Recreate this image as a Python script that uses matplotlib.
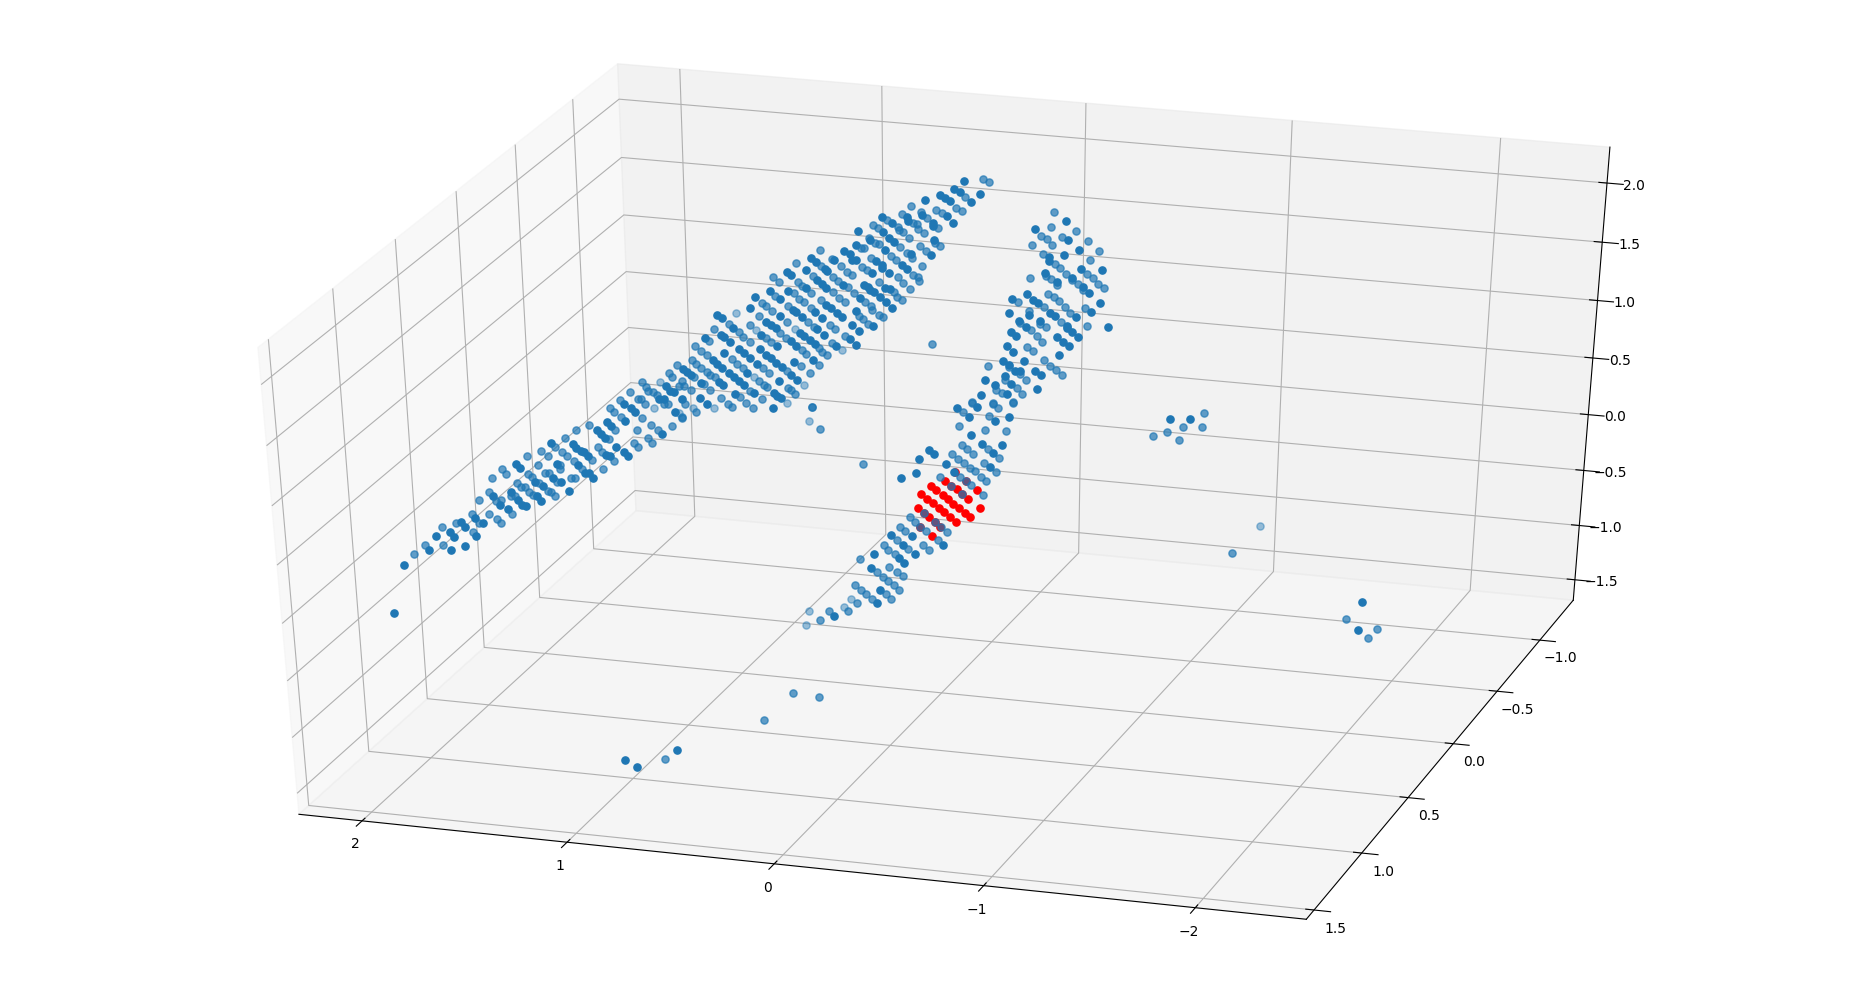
import matplotlib
matplotlib.use("Agg")
import matplotlib.pyplot as plt

# Read off a single view, so depth is unknown: every point is put on y = 0
# and (x, z) is what lines up with the picture.
y_plane = 0.0

sheet_dark = [
    (2.674,-1.45),(2.628,-1.0),(2.506,-.84),(2.469,-.71),(2.396,-.82),(2.40,-.66),(2.382,-.70),(2.326,-.77),
    (2.35,-.56),(2.33,-.60),(2.274,-.67),(2.278,-.51),(2.239,-.55),(2.194,-.30),(2.157,-.37),(2.119,-.40),
    (2.078,.004),(2.059,-.03),(2.103,-.25),(2.067,-.31),(2.048,-.35),(2.03,-.36),(1.984,-.14),(1.978,-.26),
    (1.958,-.30),(1.945,-.17),(1.82,-.19),(1.896,-.09),(1.857,-.12),(1.88,.036),(1.906,.224),(1.802,.234),
    (1.783,.201),(1.761,.173),(1.744,.171),(1.726,.137),(1.776,.053),(1.739,-.015),(1.721,-.016),(1.701,-.05),
    (1.682,.37),(1.664,.339),(1.644,.308),(1.639,.157),(1.62,.154),(1.587,.241),(1.552,.204),(1.532,.171),
    (1.633,.454),(1.613,.42),(1.544,.474),(1.55,.625),(1.514,.589),(1.495,.558),(1.363,.39),(1.30,.595),
    (1.378,.695),(1.355,.693),(1.345,.808),(1.327,.768),(1.303,.763),
    (-.111,2.745),(-.065,2.67),(-.091,2.649),(-.146,2.579),(-.19,2.654),(.005,2.614),(-.021,2.593),(-.046,2.571),
    (.075,2.561),(.167,2.41),(.161,2.377),(.091,2.439),(.037,2.38),(.037,2.36),(-.028,2.447),(-.059,2.398),
    (.286,2.397),(.237,2.351),(.283,2.27),(.254,2.227),(.227,2.2),(.403,2.265),(.348,2.197),(.275,2.125),
    (.192,2.011),(.164,1.986),(.032,2.242),(.049,2.116),(.146,2.114),(.416,2.144),(.473,2.09),(.445,2.063),
    (.434,2.02),(.416,2.02),(.317,2.024),(.289,1.995),(.286,1.976),(.255,1.936),(.273,1.814),(.25,1.809),
    (.377,1.822),(.354,1.804),(.346,1.779),(.327,1.768),(.297,1.731),(.268,1.693),(.239,1.647),(.338,1.923),
    (.52,2.008),(.636,2.005),(.611,1.977),(.564,1.928),(.556,1.907),(.476,1.801),(.393,1.707),(.753,1.87),
    (.73,1.848),(.66,1.899),(.658,1.755),(.603,1.826),(.579,1.793),(.562,1.765),(.561,1.624),(.538,1.602),
    (.51,1.567),(.481,1.532),(.416,1.596),(.33,1.486),(.837,1.696),(.788,1.643),(.745,1.716),(.613,1.557),
    (.579,1.516),(.434,1.474),(.4,1.432),(.444,1.355),(.414,1.311),(.907,1.642),(.788,1.496),(.725,1.558),
    (.706,1.547),(.681,1.506),(.605,1.413),(.571,1.368),(.512,1.287),(.933,1.538),(.853,1.438),(.831,1.411),
    (.805,1.39),(.691,1.366),(.668,1.347),(.639,1.317),(.614,1.284),(1.093,1.457),(1.071,1.432),(1.014,1.362),
    (.878,1.324),(.803,1.24),(.732,1.295),(.706,1.256),(.624,1.151),(1.154,1.255),(1.073,1.288),(1.058,1.273),
    (1.032,1.24),(1.062,1.137),(1.115,1.074),(1.093,1.045),(1.07,1.011),(.985,1.183),(.961,1.159),(.933,1.118),
    (.899,1.076),(.884,1.199),(.853,1.153),(.831,1.135),(.805,1.099),(.948,.991),(.775,1.062),(.732,1.004),
    (.702,.968),(.717,1.121),(1.036,.972),(1.013,.939),(.988,.909),(.964,.881),(.793,.943),(.818,.837),
    (.801,.816),(.784,.797),(1.005,.799),(.912,.819),(.821,.706),(1.083,.884),(1.065,.865),(1.26,.975),
    (1.241,.95),(1.224,.927),(1.175,.865),(1.179,.734),(1.146,.691),(1.265,.714),
]
sheet_mid = [
    (2.576,-.89),(2.522,-.80),(2.436,-.78),(2.441,-.62),(2.373,-.57),(2.29,-.64),(2.296,-.48),(2.262,-.55),
    (2.209,-.46),(2.17,-.50),(2.152,-.53),(2.262,-.35),(2.212,-.27),(2.176,-.34),(2.152,-.33),(2.10,-.44),
    (2.199,-.14),(2.147,-.05),(2.129,-.09),(2.103,-.28),(2.082,-.28),(2.072,-.16),(2.052,-.19),(2.033,-.19),
    (2.015,-.23),(1.996,-.26),(2.022,-.07),(2.002,-.10),(1.965,-.14),(1.924,-.21),(1.908,-.21),(1.89,-.25),
    (2.026,.086),(1.971,.018),(1.958,.139),(1.921,.10),(1.935,-.05),(1.916,-.05),(1.877,-.12),(1.864,.03),
    (1.864,-.001),(1.888,.19),(1.852,.153),(1.831,.123),(1.838,.274),(1.706,.103),(1.796,.084),(1.757,.016),
    (1.809,-.07),(1.789,-.07),(1.787,.359),(1.719,.409),(1.625,.308),(1.675,.221),(1.657,.185),(1.60,.117),
    (1.651,.039),(1.503,.288),(1.482,.255),(1.433,.342),(1.412,.308),(1.488,.407),(1.594,.39),(1.563,.505),
    (1.62,.572),(1.60,.541),(1.57,.653),(1.461,.518),(1.483,.678),(1.469,.675),(1.446,.639),(1.521,.734),
    (1.464,.823),(1.443,.789),(1.431,.757),(1.409,.752),(1.418,.46),(1.384,.423),(1.314,.473),(1.265,.555),
    (1.389,.73),(1.355,.656),(1.334,.659),(1.28,.818),(1.329,.923),(1.313,.895),(1.291,1.00),
    (-.207,2.778),(-.234,2.757),(-.117,2.619),(-.075,2.523),(-.101,2.501),(.146,2.506),(.192,2.432),(.096,2.463),
    (.067,2.415),(.023,2.492),(-.005,2.471),(.013,2.345),(.262,2.375),(.21,2.324),(.184,2.286),(.158,2.242),
    (.206,2.302),(.138,2.363),(.117,2.359),(.11,2.323),(.083,2.29),(.332,2.322),(.309,2.297),(.201,2.164),
    (.353,2.216),(.322,2.179),(.304,2.173),(.245,2.078),(.219,2.054),(.027,2.217),(.003,2.196),(.102,2.186),
    (.075,2.145),(.167,2.113),(.143,2.081),(.091,2.018),(.39,2.128),(.375,2.123),(.343,2.049),(.211,1.909),
    (.185,1.862),(.153,1.819),(.135,1.94),(.112,1.922),(.107,1.896),(.227,1.784),(.216,1.747),(.192,1.72),
    (.302,1.857),(.387,1.971),(.362,1.95),(.533,2.012),(.486,1.964),(.457,1.918),(.432,1.892),(.585,1.948),
    (.527,1.863),(.501,1.837),(.452,1.791),(.423,1.742),(.369,1.677),(.343,1.648),(.336,1.618),(.588,2.079),
    (.706,1.951),(.821,1.816),(.793,1.785),(.696,1.8),(.68,1.763),(.634,1.714),(.627,1.853),(.527,1.736),
    (.496,1.693),(.47,1.66),(.588,1.661),(.4,1.559),(.379,1.534),(.358,1.495),(.302,1.58),(.284,1.563),
    (.81,1.663),(.72,1.697),(.694,1.654),(.668,1.629),(.637,1.589),(.543,1.46),(.517,1.427),(.471,1.378),
    (.873,1.596),(.853,1.571),(.824,1.534),(.753,1.449),(.749,1.588),(.647,1.469),(.619,1.426),(.533,1.306),
    (.889,1.478),(.788,1.355),(.597,1.253),(.579,1.228),(.556,1.204),(1.107,1.339),(1.037,1.387),(.988,1.33),
    (.966,1.291),(.932,1.254),(.933,1.397),(.855,1.303),(.831,1.27),(.756,1.316),(.68,1.224),(.657,1.196),
    (.595,1.112),(.64,1.035),(1.135,1.23),(1.203,1.176),(1.172,1.136),(1.143,1.107),(1.021,1.092),(.997,1.06),
    (.969,1.025),(.87,1.04),(.842,1.008),(.753,1.036),(.686,1.087),(.889,.93),(.863,.901),(.849,.88),
    (.748,.888),(.733,.876),(.715,.847),(.98,.772),(.953,.73),(.933,.838),(.875,.774),(.92,.693),
    (1.216,1.056),(1.197,1.028),(1.171,.998),(1.145,.96),(1.127,.94),(1.106,.924),(1.208,.907),(1.159,.858),
    (1.131,.81),(1.075,.748),(1.042,.708),(1.021,.683),(1.265,.87),(1.257,.824),(1.221,.795),(1.253,.674),
    (1.197,.609),(1.265,.55),(.632,.742),(.044,1.379),
]
sheet_light = [
    (1.28,.592),(1.402,.612),(1.374,.845),(.484,1.257),(1.001,1.485),(.712,1.396),(.902,1.357),(.67,.928),
    (.914,.954),(.754,.757),(1.11,.66),(1.211,.644),(.647,.627),
]

arm_dark = [
    (-.607,2.49),(-.46,2.402),(-.617,2.339),(-.672,2.266),(-.599,2.212),(-.524,2.186),(-.527,2.152),(-.683,2.115),
    (-.782,2.122),(-.509,2.054),(-.638,2.034),(-.565,1.983),(-.693,1.967),(-.719,1.917),(-.418,1.869),(-.345,1.815),
    (-.447,1.824),(-.473,1.799),(-.73,1.767),(-.776,1.847),(-.43,1.696),(-.329,1.692),(-.529,1.726),(-.556,1.702),
    (-.657,1.713),(-.382,1.637),(-.412,1.592),(-.483,1.651),(-.612,1.632),(-.612,1.609),(-.639,1.585),(-.812,1.653),
    (-.339,1.537),(-.365,1.51),(-.566,1.532),(-.594,1.493),(-.621,1.462),(-.665,1.542),(-.321,1.413),(-.348,1.37),
    (-.576,1.38),(-.303,1.286),(-.33,1.259),(-.404,1.3),(-.358,1.215),(-.386,1.22),(-.457,1.229),(-.485,1.202),
    (-.311,1.163),(-.212,1.11),(-.264,1.082),(-.34,1.095),(-.321,1.012),(-.467,1.078),(-.195,.986),
    (-.078,.851),(-.174,.875),(-.134,.784),(-.26,.767),(-.332,.819),(-.143,.629),(-.197,.559),(-.252,.492),
    (-.298,.573),(-.025,.365),(-.236,.368),(-.064,.301),(.058,.465),(.034,.438),(.107,.38),(.123,.257),
    (.196,.203),(.144,-.30),(.247,-.312),(.187,-.387),(.131,-.457),(-.008,-.352),(.209,-.51),(.183,-.545),
    (.328,-.493),(.344,-.617),(.3,-.806),(.315,-.926),(.522,-1.08),
]
arm_mid = [
    (-.552,2.56),(-.534,2.433),(-.66,2.417),(-.488,2.355),(-.516,2.329),(-.589,2.363),(-.716,2.347),(-.444,2.275),
    (-.543,2.285),(-.771,2.273),(-.498,2.205),(-.727,2.195),(-.555,2.132),(-.582,2.105),(-.61,2.061),(-.511,2.031),
    (-.709,2.072),(-.537,2.004),(-.434,1.997),(-.638,2.015),(-.739,2.045),(-.665,1.989),(-.565,1.96),(-.765,1.998),
    (-.794,1.972),(-.691,1.942),(-.519,1.88),(-.373,1.789),(-.548,1.857),(-.574,1.829),(-.503,1.773),(-.602,1.783),
    (-.701,1.793),(-.43,1.722),(-.63,1.737),(-.386,1.616),(-.438,1.567),(-.483,1.628),(-.511,1.602),(-.584,1.656),
    (-.711,1.642),(-.465,1.522),(-.493,1.477),(-.42,1.423),(-.447,1.397),(-.503,1.327),(-.53,1.283),(-.558,1.256),
    (-.586,1.213),(-.23,1.235),(-.33,1.24),(-.386,1.189),(-.311,1.129),(-.413,1.148),(-.269,1.04),(-.295,1.013),
    (-.368,1.068),(-.395,1.024),(-.15,.914),(-.251,.922),(-.35,.946),
    (-.104,.821),(-.148,.905),(-.251,.916),(-.278,.889),(-.35,.939),(-.233,.806),(-.088,.701),(-.215,.684),
    (-.316,.694),(-.1,.538),(-.126,.509),(-.155,.468),(-.226,.522),(-.282,.455),(-.054,.454),(-.083,.417),
    (-.109,.387),(-.139,.347),(-.163,.32),(-.21,.4),(-.265,.333),(-.192,.279),(-.218,.246),(-.093,.263),
    (.008,.247),(-.047,.177),(-.101,.109),(-.145,.195),(-.202,.125),(-.121,.228),(.084,-.085),(.154,-.134),
    (.13,-.175),(.102,-.21),(.032,-.156),(.001,-.195),(-.025,-.23),(.2,-.225),(.175,-.262),(.073,-.245),
    (.218,-.35),(.161,-.42),(.089,-.368),(.061,-.404),(.019,-.315),(.281,-.40),(.258,-.44),(.227,-.476),
    (.398,-.545),(.312,-.65),(.255,-.598),(.218,-.632),(.188,-.667),(.284,-.685),(.26,-.72),(.229,-.755),
    (.205,-.79),(.422,-.787),(.393,-.824),(.367,-.857),(.27,-.841),(.245,-.876),(.338,-.894),(.411,-.944),
    (.453,-1.03),(.546,-1.046),(.59,-1.133),(.631,.744),(.593,.561),(.38,.292),
]
arm_light = [(.439,-.911),(.476,-.993),(.645,-1.063),(.66,-1.19)]

stray_dark = [(-1.21,.945),(-1.115,.93),(-2.04,-.5),(-2.02,-.754),(1.29,-2.47),(1.54,-2.62),(1.484,-2.675)]
stray_mid = [
    (-1.28,1.0),(-1.27,.886),(-1.175,.87),(-1.10,.816),(-1.03,.77),(-1.155,.75),(-1.41,-.18),(-1.96,-.667),
    (-2.11,-.724),(-2.07,-.816),(.723,-1.83),(.595,-1.84),(.865,-2.11),(1.345,-2.57),
]
stray_light = [(-1.55,.076)]

red_points = [
    (.05,.159),(.026,.128),(.097,.077),(.068,.04),(.04,.007),(.011,-.028),(-.013,-.062),(-.044,-.10),
    (-.069,-.135),(-.007,.089),(-.031,.059),(-.059,.02),(-.088,-.008),(-.113,-.049),(-.14,-.083),(-.02,.215),
    (-.075,.148),(-.13,.074),(-.176,.161),(-.186,.007),(.112,-.045),(.058,-.119),(.005,-.192),(.102,-.21),
    (.048,-.279),(-.069,.299),(-.121,.228),(-.047,.177),(-.101,.109),(.032,-.156),(.084,-.085),
]

x_ticks = [-2, -1, 0, 1, 2]
y_ticks = [-1, -0.5, 0, 0.5, 1, 1.5]
z_ticks = [-1.5, -1, -0.5, 0, 0.5, 1, 1.5, 2]

fig = plt.figure(figsize=(18.57, 9.89), dpi=100)
ax = fig.add_axes([0, 0, 1, 1], projection="3d")
# fill the whole figure like the old Axes3D(fig) did
ax.apply_aspect = lambda position=None: None
ax.computed_zorder = False
ax.set_box_aspect((1, 1, 1), zoom=0.948)
ax.view_init(elev=34.5, azim=107.3)


def draw(points, color, alpha, zorder):
    # x was read with a flat scale, the y = 0 plane is slightly in perspective
    xs = [p[0] * (1 + 0.0035 * p[0]) / (1 + 0.0156 * p[1]) for p in points]
    zs = [p[1] for p in points]
    ax.scatter(xs, [y_plane] * len(xs), zs, s=27, color=color, alpha=alpha, depthshade=False, zorder=zorder)


draw(red_points, "red", 1.0, 2)
for group in [sheet_light, arm_light, stray_light]:
    draw(group, "C0", 0.45, 3)
for group in [sheet_mid, arm_mid, stray_mid]:
    draw(group, "C0", 0.7, 4)
for group in [sheet_dark, arm_dark, stray_dark]:
    draw(group, "C0", 1.0, 5)

ax.set_xlim(-2.52, 2.31, view_margin=0)
ax.set_ylim(-1.40, 1.58, view_margin=0)
ax.set_zlim(-1.69, 2.30, view_margin=0)
ax.set_xticks(x_ticks)
ax.set_yticks(y_ticks)
ax.set_zticks(z_ticks)

fig.savefig("out.png", dpi=100)
